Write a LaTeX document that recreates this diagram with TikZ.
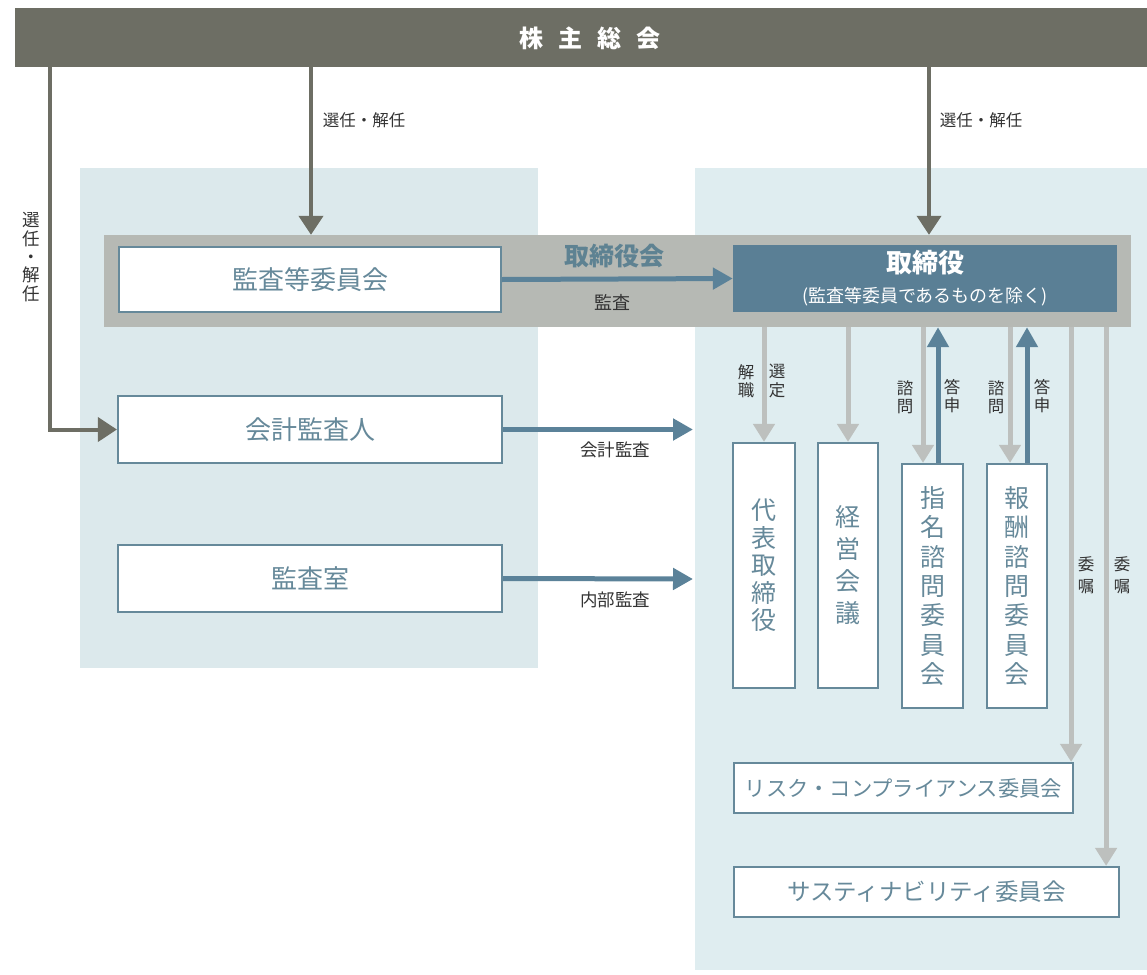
\documentclass[tikz,border=0pt]{standalone}
\usepackage{fontspec}
\setmainfont{Noto Sans CJK JP}
\usetikzlibrary{arrows.meta}
\definecolor{barc}{HTML}{6D6E64}
\definecolor{panell}{HTML}{DCE9EC}
\definecolor{panelr}{HTML}{DFEDF0}
\definecolor{bandc}{HTML}{B6B9B4}
\definecolor{boxc}{HTML}{66899A}
\definecolor{bluec}{HTML}{5B8299}
\definecolor{grayc}{HTML}{BDC0BE}
\definecolor{dirc}{HTML}{5A7F95}
\definecolor{labc}{HTML}{333333}
\definecolor{titlec}{HTML}{5E8292}
\begin{document}
\begin{tikzpicture}[x=1pt,y=-1pt,
  box/.style={draw=boxc, line width=2.2pt, fill=white, text=boxc, inner sep=0pt},
  hbox/.style={box, font=\fontsize{26}{28}\selectfont},
  vbox/.style={box, align=center},
  lab/.style={text=labc, inner sep=0pt, font=\fontsize{16.5}{19}\selectfont},
  vlab/.style={text=labc, inner sep=0pt, align=center, font=\fontsize{16.5}{18.5}\selectfont},
  darkarr/.style={draw=barc, line width=4pt, -{Triangle[width=24pt,length=19pt]}},
  bluearr/.style={draw=bluec, line width=5pt, -{Triangle[width=21pt,length=20pt]}},
  grayarr/.style={draw=grayc, line width=5pt, -{Triangle[width=21pt,length=18pt]}},
  plain/.style={inner sep=0pt, draw=none}
]
\useasboundingbox (0,0) rectangle (1147,974);
% background panels
\fill[panell] (80,168) rectangle (538,668);
\fill[panelr] (695,168) rectangle (1147,970);
\node[plain, fill=bandc, minimum width=1027pt, minimum height=92pt] (band) at (617.5,281) {};
% top bar
\node[plain, fill=barc, minimum width=1132pt, minimum height=59pt] (gm) at (581,37.5) {};
\node[plain, text=white, font=\fontsize{24}{26}\selectfont\bfseries] (gmtitle) at (590,38) {株\hspace{15pt}主\hspace{15pt}総\hspace{15pt}会};
% boxes
\node[hbox, minimum width=382pt, minimum height=65pt] (kansa) at (310,279.5) {監査等委員会};
\node[hbox, minimum width=384pt, minimum height=67pt] (kaikei) at (310,429.5) {会計監査人};
\node[hbox, minimum width=384pt, minimum height=67pt] (shitsu) at (310,578.5) {監査室};
\node[plain, fill=dirc, text=white, align=center, minimum width=384pt, minimum height=67pt] (tori) at (925,278.5)
  {{\fontsize{26}{30}\selectfont\bfseries 取締役}\\[11pt]{\fontsize{18}{22}\selectfont (監査等委員であるものを除く)}};
\node[vbox, font=\fontsize{25}{27.5}\selectfont, minimum width=62pt, minimum height=245pt] (daihyo) at (764,565.5) {代\\表\\取\\締\\役};
\node[vbox, font=\fontsize{25}{32}\selectfont, minimum width=60pt, minimum height=245pt] (keiei) at (848,565.5) {経\\営\\会\\議};
\node[vbox, font=\fontsize{25}{29.4}\selectfont, minimum width=61pt, minimum height=244pt] (shimei) at (932.5,586) {指\\名\\諮\\問\\委\\員\\会};
\node[vbox, font=\fontsize{25}{29.4}\selectfont, minimum width=60pt, minimum height=244pt] (hoshu) at (1017,586) {報\\酬\\諮\\問\\委\\員\\会};
\node[box, font=\fontsize{21.3}{24}\selectfont, minimum width=339pt, minimum height=50pt] (risk) at (903.5,788) {リスク・コンプライアンス委員会};
\node[box, font=\fontsize{23.5}{26}\selectfont, minimum width=385pt, minimum height=50pt] (sust) at (926.5,892) {サスティナビリティ委員会};
% labels
\node[lab] (l1) at (364,120) {選任・解任};
\node[lab] (l2) at (981,120) {選任・解任};
\node[vlab, font=\fontsize{17.5}{18.3}\selectfont] (l3) at (31,257) {選\\任\\・\\解\\任};
\node[plain, text=titlec, font=\fontsize{25}{28}\selectfont\bfseries] (kaigi) at (614,256) {取締役会};
\node[lab, font=\fontsize{18}{20}\selectfont] (l4) at (612,302) {監査};
\node[lab, font=\fontsize{17.5}{20}\selectfont] (l5) at (615,450) {会計監査};
\node[lab, font=\fontsize{17.5}{20}\selectfont] (l6) at (615,600) {内部監査};
\node[vlab] (v1) at (746,381) {解\\職};
\node[vlab] (v2) at (777,381) {選\\定};
\node[vlab] (v3) at (905,397) {諮\\問};
\node[vlab] (v4) at (952,396) {答\\申};
\node[vlab] (v5) at (996,397) {諮\\問};
\node[vlab] (v6) at (1042,396) {答\\申};
\node[vlab, font=\fontsize{16.5}{21.5}\selectfont] (v7) at (1086,575) {委\\嘱};
\node[vlab, font=\fontsize{16.5}{21.5}\selectfont] (v8) at (1122,575) {委\\嘱};
% coordinates
\coordinate (kaend) at (693,429.5);
\coordinate (naend) at (693,579);
\coordinate (sg) at ([xshift=-9.5pt]shimei.north);
\coordinate (sb) at ([xshift=5.5pt]shimei.north);
\coordinate (hg) at ([xshift=-7pt]hoshu.north);
\coordinate (hb) at ([xshift=10pt]hoshu.north);
\coordinate (rk) at ([xshift=-3pt]risk.north east);
\coordinate (st) at ([xshift=-14pt]sust.north east);
\coordinate (ta) at ([xshift=1pt]kansa.north);
\coordinate (tb) at ([xshift=4pt]tori.north);
% connectors
\draw[darkarr] (ta |- gm.south) -- (ta |- band.north);
\draw[darkarr] (tb |- gm.south) -- (tb |- band.north);
\draw[darkarr] ([xshift=35pt]gm.south west) |- (kaikei.west);
\draw[bluearr] (kansa.east) -- (tori.west);
\draw[bluearr] (kaikei.east) -- (kaend);
\draw[bluearr] (shitsu.east) -- (naend);
\draw[grayarr] (daihyo.north |- band.south) -- (daihyo.north);
\draw[grayarr] (keiei.north |- band.south) -- (keiei.north);
\draw[grayarr] (sg |- band.south) -- (sg);
\draw[grayarr] (hg |- band.south) -- (hg);
\draw[bluearr] (sb) -- (sb |- band.south);
\draw[bluearr] (hb) -- (hb |- band.south);
\draw[grayarr] (rk |- band.south) -- (rk);
\draw[grayarr] (st |- band.south) -- (st);
\end{tikzpicture}
\end{document}
